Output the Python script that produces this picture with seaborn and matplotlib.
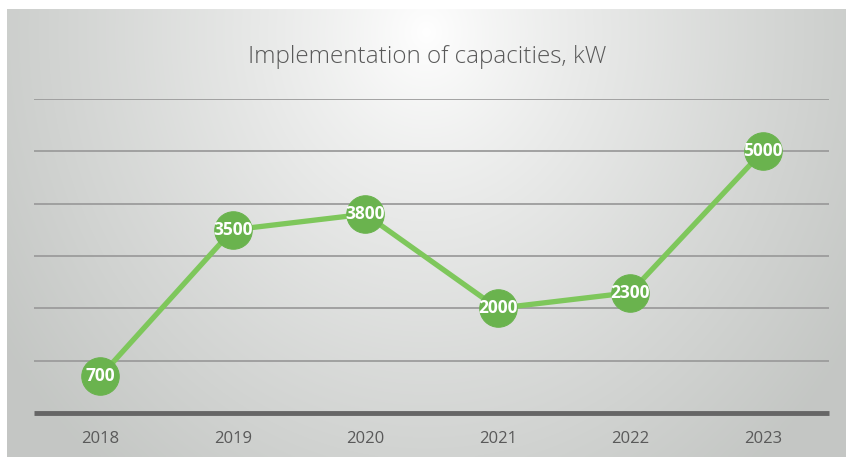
import numpy as np
import pandas as pd
import matplotlib
matplotlib.use("Agg")
import matplotlib.pyplot as plt
import seaborn as sns

years = ["2018", "2019", "2020", "2021", "2022", "2023"]
capacity_kw = [700, 3500, 3800, 2000, 2300, 5000]
grid_levels = [1000, 2000, 3000, 4000, 5000, 6000]

df = pd.DataFrame({"year": years, "kw": capacity_kw})

sns.set_theme(style="white")
plt.rcParams["font.family"] = ["Open Sans", "DejaVu Sans"]

W, H = 854, 461
fig = plt.figure(figsize=(W / 100, H / 100), dpi=100)
fig.patch.set_facecolor("white")

# Chart panel with a soft radial gradient (light centre near the title)
bx0, by0, bx1, by1 = 7, 9, 846, 457
bg = fig.add_axes([bx0 / W, 1 - by1 / H, (bx1 - bx0) / W, (by1 - by0) / H])
gx, gy = np.meshgrid(np.linspace(0, 1, 400), np.linspace(0, 1, 220))
aspect = (bx1 - bx0) / (by1 - by0)
r = np.sqrt(((gx - 0.5) * aspect / 1.5) ** 2 + ((gy - 0.05) / 1.7) ** 2)
r = np.clip(r / 0.75, 0, 1)
c_in = np.array([1.0, 1.0, 1.0])
c_out = np.array([0.77, 0.78, 0.77])
t = r[..., None] ** 0.85
img = c_in[None, None, :] * (1 - t) + c_out[None, None, :] * t
bg.imshow(img, aspect="auto", extent=[0, 1, 1, 0], interpolation="bilinear")
bg.set_axis_off()

# Plot area
ax_l, ax_r, ax_t, ax_b = 34, 829, 99, 413
ax = fig.add_axes([ax_l / W, 1 - ax_b / H, (ax_r - ax_l) / W, (ax_b - ax_t) / H])
ax.patch.set_alpha(0)

for g in grid_levels:
    ax.axhline(g, color="#9c9c9c", lw=1.3, zorder=1)
base = ax.axhline(0, color="#666666", lw=3.5, zorder=2, solid_capstyle="butt")
base.set_clip_on(False)

sns.lineplot(data=df, x="year", y="kw", ax=ax, color="#7ec75b", lw=3.8,
             marker="o", markersize=27, markerfacecolor="#6ab34e",
             markeredgecolor="#6ab34e", zorder=3, sort=False)

for i, v in enumerate(df["kw"]):
    ax.text(i, v, str(v), ha="center", va="center", color="white",
            fontsize=12.5, fontweight="bold", zorder=4)

ax.set_xlim(-0.5, len(years) - 0.5)
ax.set_ylim(0, 6000)
ax.set_yticks([])
ax.set_xlabel("")
ax.set_ylabel("")
ax.tick_params(axis="x", length=0, pad=13, labelsize=12, labelcolor="#595959")
for s in ax.spines.values():
    s.set_visible(False)

fig.text(0.5, 1 - 57 / H, "Implementation of capacities, kW", ha="center",
         va="center", fontsize=17.5, color="#595959", fontweight="light")

fig.savefig("out.png", dpi=100)
